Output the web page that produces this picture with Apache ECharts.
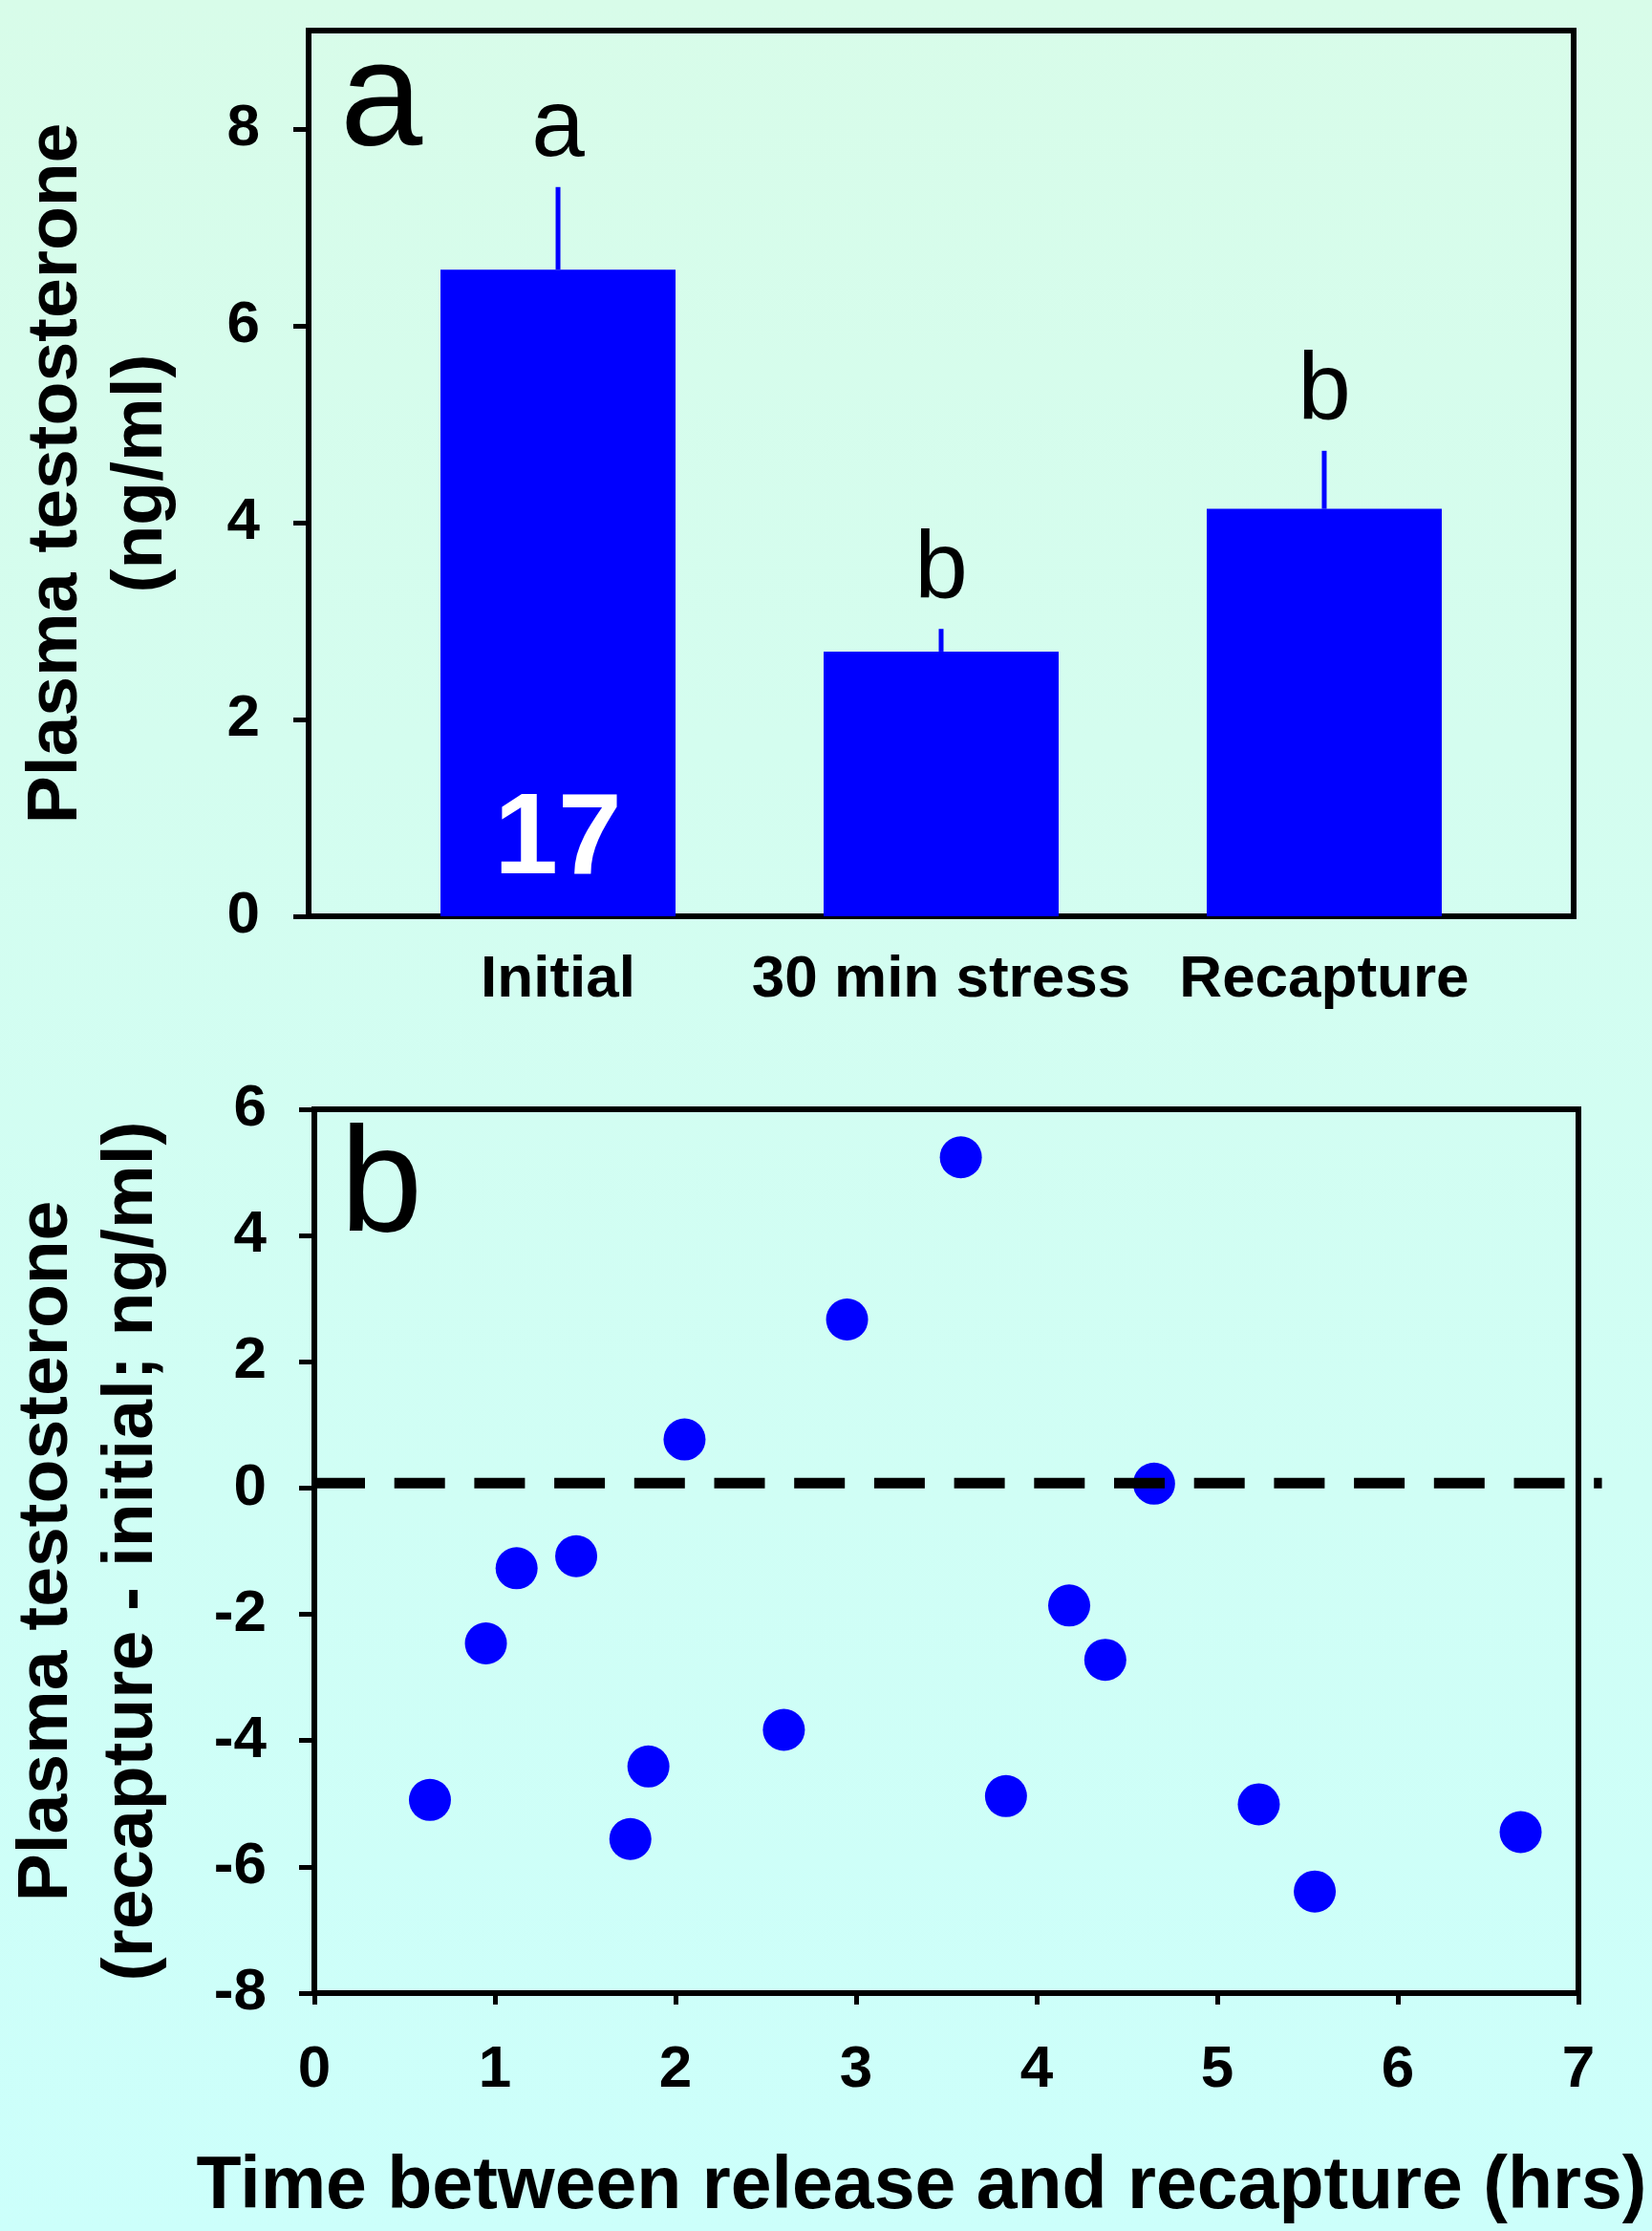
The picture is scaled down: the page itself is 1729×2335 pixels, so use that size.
<!DOCTYPE html>
<html>
<head>
<meta charset="utf-8">
<script src="https://cdn.jsdelivr.net/npm/echarts@6/dist/echarts.min.js"></script>
<style>
  html, body { margin: 0; padding: 0; }
  #chart { width: 1729px; height: 2335px; }
</style>
</head>
<body>
<div id="chart"></div>
<script>
// panel a: testosterone at three sampling points
const categories = ['Initial', '30 min stress', 'Recapture'];
const catPos = [1, 2, 3];
const meanT = [6.57, 2.69, 4.14];
const seT = [0.84, 0.23, 0.59];
const sigLetters = ['a', 'b', 'b'];
const sampleN = '17';
const yTicksA = [0, 2, 4, 6, 8];

// panel b: change in testosterone vs time to recapture
const hours = [0.64, 0.95, 1.12, 1.45, 1.75, 1.85, 2.05, 2.60, 2.95, 3.58, 3.83, 4.18, 4.38, 4.65, 5.23, 5.54, 6.68];
const diffT = [-4.94, -2.46, -1.27, -1.08, -5.56, -4.41, 0.77, -3.83, 2.67, 5.24, -4.88, -1.86, -2.72, 0.07, -5.01, -6.39, -5.45];
const zeroLine = [[0, 0.08], [7.13, 0.08]];

const FONT = '"Liberation Sans", Arial, sans-serif';
const BLUE = '#0000ff';

const barData = catPos.map((x, i) => [x, meanT[i]]);
const errData = catPos.map((x, i) => [x, meanT[i], meanT[i] + seT[i]]);
const ptData = hours.map((h, i) => [h, diffT[i]]);
const refData = [[zeroLine[0][0], zeroLine[0][1], zeroLine[1][0], zeroLine[1][1]]];

const chart = echarts.init(document.getElementById('chart'));

const axisTxt = { color: '#000', fontFamily: FONT, fontWeight: 'bold', fontSize: 62 };
const nameTxt = { color: '#000', fontFamily: FONT, fontWeight: 'bold', fontSize: 75, lineHeight: 89 };

chart.setOption({
  animation: false,
  backgroundColor: {
    type: 'linear', x: 0, y: 0, x2: 0, y2: 1,
    colorStops: [{ offset: 0, color: '#d8fce9' }, { offset: 1, color: '#ccfffb' }]
  },
  grid: [
    { left: 323, right: 82, top: 32, height: 927, outerBoundsMode: 'none', show: true, borderColor: '#000', borderWidth: 6, backgroundColor: 'transparent' },
    { left: 329, right: 77, top: 1161, height: 925, outerBoundsMode: 'none', show: true, borderColor: '#000', borderWidth: 6, backgroundColor: 'transparent' }
  ],
  xAxis: [
    {
      gridIndex: 0, type: 'value', min: 0.349, max: 3.651,
      splitLine: { show: false },
      axisLine: { show: true, lineStyle: { color: '#000', width: 6 } },
      axisTick: { show: false },
      axisLabel: {
        customValues: catPos, margin: 36, ...axisTxt,
        formatter: v => categories[catPos.indexOf(Math.round(v))] || ''
      }
    },
    {
      gridIndex: 1, type: 'value', min: 0, max: 7, interval: 1,
      splitLine: { show: false },
      axisLine: { show: true, onZero: false, lineStyle: { color: '#000', width: 6 } },
      axisTick: { show: true, length: 12, lineStyle: { color: '#000', width: 5 } },
      axisLabel: { margin: 50, ...axisTxt },
      name: 'Time between release and recapture (hrs)',
      nameLocation: 'middle', nameGap: 165,
      nameTextStyle: { color: '#000', fontFamily: FONT, fontWeight: 'bold', fontSize: 77, padding: [0, 52, 0, 0] }
    }
  ],
  yAxis: [
    {
      gridIndex: 0, type: 'value', min: 0, max: 9,
      splitLine: { show: false },
      axisLine: { show: true, lineStyle: { color: '#000', width: 6 } },
      axisTick: { show: true, length: 16, customValues: yTicksA, lineStyle: { color: '#000', width: 5 } },
      axisLabel: { customValues: yTicksA, margin: 51, ...axisTxt },
      name: 'Plasma testosterone\n(ng/ml)',
      nameLocation: 'middle', nameRotate: 90, nameGap: 130,
      nameTextStyle: nameTxt
    },
    {
      gridIndex: 1, type: 'value', min: -8, max: 6, interval: 2,
      splitLine: { show: false },
      axisLine: { show: true, onZero: false, lineStyle: { color: '#000', width: 6 } },
      axisTick: { show: true, length: 16, lineStyle: { color: '#000', width: 5 } },
      axisLabel: { margin: 50, ...axisTxt },
      name: 'Plasma testosterone\n(recapture - initial; ng/ml)',
      nameLocation: 'middle', nameRotate: 90, nameGap: 146,
      nameTextStyle: nameTxt
    }
  ],
  graphic: [
    { type: 'text', style: { x: 356, y: 31, text: 'a', font: '155px ' + FONT, fill: '#000', verticalAlign: 'top' } },
    { type: 'text', style: { x: 356, y: 1168, text: 'b', font: '155px ' + FONT, fill: '#000', verticalAlign: 'top' } }
  ],
  series: [
    {
      type: 'bar', xAxisIndex: 0, yAxisIndex: 0,
      data: barData, barWidth: 246,
      itemStyle: { color: BLUE },
      label: {
        show: true, position: 'insideBottom', distance: 18,
        formatter: p => p.dataIndex === 0 ? sampleN : '',
        color: '#fff', fontFamily: FONT, fontWeight: 'bold', fontSize: 120
      }
    },
    {
      type: 'custom', xAxisIndex: 0, yAxisIndex: 0,
      data: errData, encode: { x: 0, y: [1, 2] },
      renderItem: function (params, api) {
        const x = api.value(0);
        const lo = api.coord([x, api.value(1)]);
        const hi = api.coord([x, api.value(2)]);
        return {
          type: 'group',
          children: [
            { type: 'line', shape: { x1: lo[0], y1: lo[1], x2: hi[0], y2: hi[1] }, style: { stroke: BLUE, lineWidth: 5 } },
            { type: 'text', style: { x: hi[0], y: hi[1] - 10, text: sigLetters[params.dataIndex], font: '100px ' + FONT, fill: '#000', align: 'center', verticalAlign: 'bottom' } }
          ]
        };
      }
    },
    {
      type: 'scatter', xAxisIndex: 1, yAxisIndex: 1,
      data: ptData, symbolSize: 44, z: 3,
      itemStyle: { color: BLUE, opacity: 1 }
    },
    {
      // dashed reference line, runs a little past the right frame as in the original
      type: 'custom', xAxisIndex: 1, yAxisIndex: 1, z: 5, clip: false,
      data: refData, encode: { x: [0, 2], y: [1, 3] },
      renderItem: function (params, api) {
        const p0 = api.coord([api.value(0), api.value(1)]);
        const p1 = api.coord([api.value(2), api.value(3)]);
        return {
          type: 'line',
          shape: { x1: p0[0], y1: p0[1], x2: p1[0], y2: p1[1] },
          style: { stroke: '#000', lineWidth: 11, lineDash: [53, 30.7], lineCap: 'butt' }
        };
      }
    }
  ]
});
</script>
</body>
</html>
